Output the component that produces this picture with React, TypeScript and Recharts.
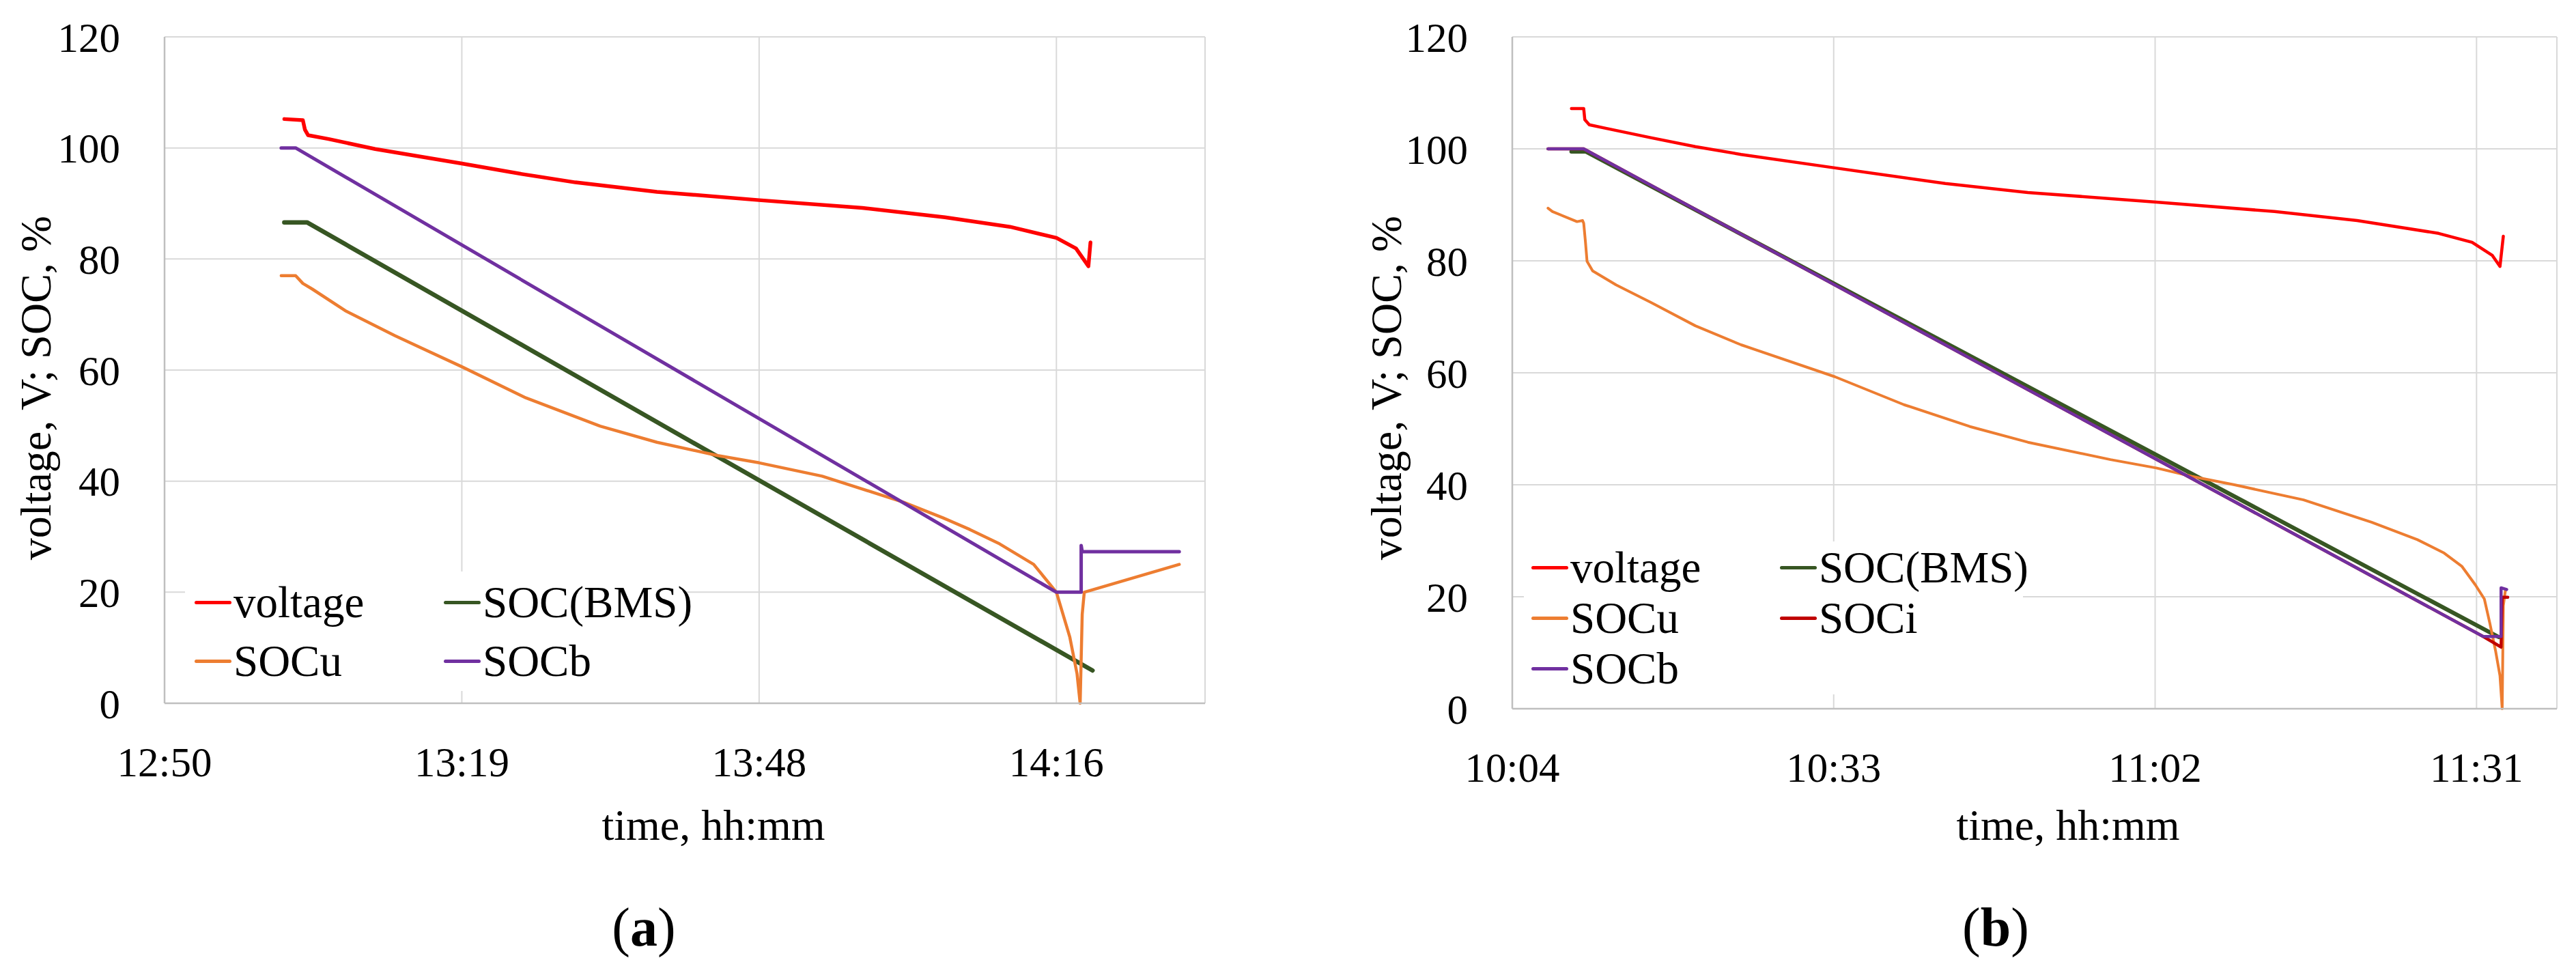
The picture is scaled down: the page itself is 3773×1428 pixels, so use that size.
import { CartesianGrid, Legend, Line, LineChart, XAxis, YAxis } from "recharts";

// t = minutes after midnight, v = volts or %
const voltageA = [
  { t: 782.0, v: 105.2 }, { t: 783.8, v: 105.0 }, { t: 784.0, v: 103.3 }, { t: 784.3, v: 102.3 },
  { t: 786.3, v: 101.6 }, { t: 790.8, v: 99.8 }, { t: 799.2, v: 97.2 }, { t: 805.0, v: 95.3 },
  { t: 810.2, v: 93.8 }, { t: 818.1, v: 92.1 }, { t: 828.0, v: 90.6 }, { t: 838.0, v: 89.2 },
  { t: 846.0, v: 87.5 }, { t: 852.3, v: 85.8 }, { t: 856.8, v: 83.8 }, { t: 858.7, v: 81.9 },
  { t: 859.9, v: 78.7 }, { t: 860.1, v: 83.0 },
];
const socBmsA = [{ t: 782.0, v: 86.6 }, { t: 784.2, v: 86.6 }, { t: 860.3, v: 5.9 }];
const socUA = [
  { t: 781.7, v: 77.0 }, { t: 783.1, v: 77.0 }, { t: 783.8, v: 75.6 }, { t: 784.7, v: 74.6 },
  { t: 787.9, v: 70.7 }, { t: 792.7, v: 66.2 }, { t: 799.2, v: 60.6 }, { t: 805.4, v: 55.0 },
  { t: 812.6, v: 49.9 }, { t: 818.1, v: 47.0 }, { t: 824.0, v: 44.6 }, { t: 828.0, v: 43.3 },
  { t: 834.1, v: 40.9 }, { t: 842.0, v: 36.2 }, { t: 845.8, v: 33.4 }, { t: 848.4, v: 31.3 },
  { t: 851.3, v: 28.7 }, { t: 854.6, v: 25.0 }, { t: 856.8, v: 20.0 }, { t: 858.1, v: 11.9 },
  { t: 858.8, v: 5.3 }, { t: 859.1, v: 0 }, { t: 859.3, v: 16.0 }, { t: 859.5, v: 20.0 },
  { t: 868.7, v: 25.0 },
];
const socBA = [
  { t: 781.7, v: 100 }, { t: 783.1, v: 100 }, { t: 856.8, v: 20.0 }, { t: 859.2, v: 20.0 },
  { t: 859.2, v: 28.4 }, { t: 859.3, v: 27.3 }, { t: 868.7, v: 27.3 },
];

const voltageB = [
  { t: 610.1, v: 107.2 }, { t: 611.2, v: 107.2 }, { t: 611.3, v: 105.2 }, { t: 611.7, v: 104.3 },
  { t: 613.1, v: 103.7 }, { t: 617.2, v: 102.0 }, { t: 621.2, v: 100.4 }, { t: 625.3, v: 99.0 },
  { t: 633.7, v: 96.6 }, { t: 643.6, v: 93.8 }, { t: 651.0, v: 92.2 }, { t: 662.5, v: 90.5 },
  { t: 673.1, v: 88.8 }, { t: 680.5, v: 87.2 }, { t: 687.8, v: 84.9 }, { t: 690.8, v: 83.3 },
  { t: 692.6, v: 81.0 }, { t: 693.3, v: 79.0 }, { t: 693.6, v: 84.4 },
];
const socBmsB = [{ t: 610.1, v: 99.5 }, { t: 611.4, v: 99.5 }, { t: 693.2, v: 12.8 }];
const socUB = [
  { t: 608.0, v: 89.4 }, { t: 608.4, v: 88.8 }, { t: 610.6, v: 87.0 }, { t: 611.1, v: 87.2 },
  { t: 611.2, v: 86.7 }, { t: 611.35, v: 83.5 }, { t: 611.5, v: 79.9 }, { t: 612.0, v: 78.2 },
  { t: 614.1, v: 75.7 }, { t: 617.2, v: 72.6 }, { t: 621.2, v: 68.4 }, { t: 625.3, v: 65.0 },
  { t: 633.7, v: 59.3 }, { t: 639.9, v: 54.3 }, { t: 645.8, v: 50.4 }, { t: 651.0, v: 47.6 },
  { t: 658.4, v: 44.5 }, { t: 662.5, v: 43.0 }, { t: 665.7, v: 41.5 }, { t: 669.5, v: 40.0 },
  { t: 675.7, v: 37.3 }, { t: 681.8, v: 33.3 }, { t: 685.9, v: 30.2 }, { t: 688.3, v: 27.8 },
  { t: 689.9, v: 25.4 }, { t: 691.1, v: 22.1 }, { t: 691.9, v: 19.6 }, { t: 692.4, v: 15.2 },
  { t: 692.9, v: 10.4 }, { t: 693.3, v: 5.9 }, { t: 693.5, v: 0 }, { t: 693.6, v: 18.4 },
  { t: 693.8, v: 21.3 },
];
const socIB = [
  { t: 608.0, v: 100 }, { t: 611.2, v: 100 }, { t: 691.8, v: 12.9 }, { t: 693.4, v: 11.0 },
  { t: 693.5, v: 19.9 }, { t: 694.0, v: 19.9 },
];
const socBB = [
  { t: 608.0, v: 100 }, { t: 611.2, v: 100 }, { t: 691.8, v: 12.9 }, { t: 693.4, v: 12.9 },
  { t: 693.4, v: 21.6 }, { t: 693.9, v: 21.3 },
];

const ticksA = [770.4, 799.2, 828, 856.8];
const tickLabelsA = ["12:50", "13:19", "13:48", "14:16"];
const ticksB = [604.8, 633.6, 662.4, 691.2];
const tickLabelsB = ["10:04", "10:33", "11:02", "11:31"];
const yTicks = [0, 20, 40, 60, 80, 100, 120];

const FONT = "'Liberation Serif', 'Times New Roman', serif";
const GRID = "#D9D9D9";
const AXIS = "#BFBFBF";

const seriesA = [
  { name: "voltage", data: voltageA, color: "#FF0000", w: 5.5 },
  { name: "SOC(BMS)", data: socBmsA, color: "#375623", w: 6.5 },
  { name: "SOCu", data: socUA, color: "#ED7D31", w: 4.5 },
  { name: "SOCb", data: socBA, color: "#7030A0", w: 5 },
];
const seriesB = [
  { name: "voltage", data: voltageB, color: "#FF0000", w: 4.5 },
  { name: "SOC(BMS)", data: socBmsB, color: "#375623", w: 6 },
  { name: "SOCu", data: socUB, color: "#ED7D31", w: 4 },
  { name: "SOCi", data: socIB, color: "#C00000", w: 4.5 },
  { name: "SOCb", data: socBB, color: "#7030A0", w: 4.5 },
];

type Series = { name: string; data: { t: number; v: number }[]; color: string; w: number };

function LegendBox({ items, colW, rowH, padL, padT, w, h }: any) {
  return (
    <div
      style={{
        width: w,
        height: h,
        background: "#fff",
        boxSizing: "border-box",
        paddingLeft: padL,
        paddingTop: padT,
        display: "grid",
        gridTemplateColumns: `${colW}px ${colW}px`,
        gridAutoRows: `${rowH}px`,
        fontFamily: FONT,
        fontSize: 65,
        color: "#000",
      }}
    >
      {items.map((s: Series) => (
        <div key={s.name} style={{ display: "flex", alignItems: "center", lineHeight: 1 }}>
          <span style={{ width: 54, height: 5, background: s.color, borderRadius: 2.5, marginRight: 3 }} />
          <span>{s.name}</span>
        </div>
      ))}
    </div>
  );
}

function Panel(p: any) {
  const series: Series[] = p.series;
  return (
    <div style={{ position: "absolute", left: p.left, top: 0 }}>
      <LineChart width={p.width} height={1428} margin={{ top: 54, right: p.marginRight, bottom: 0, left: 0 }}>
        <CartesianGrid stroke={GRID} strokeWidth={2} />
        <XAxis
          type="number"
          dataKey="t"
          domain={p.domain}
          ticks={p.ticks}
          interval={0}
          tickFormatter={(_v: number, i: number) => p.tickLabels[i]}
          height={p.xAxisHeight}
          tickLine={false}
          tickSize={0}
          tickMargin={64}
          axisLine={{ stroke: AXIS, strokeWidth: 2.5 }}
          tick={{ fontSize: 61, fill: "#000", fontFamily: FONT }}
          label={{
            content: () => (
              <g fontFamily={FONT} fill="#000">
                <text x={p.titleX} y={1230} textAnchor="middle" fontSize={64}>
                  time, hh:mm
                </text>
                <text x={p.captionX} y={1385} textAnchor="middle" fontSize={80}>
                  (<tspan fontWeight="bold">{p.caption}</tspan>)
                </text>
              </g>
            ),
          }}
        />
        <YAxis
          type="number"
          domain={[0, 120]}
          ticks={yTicks}
          interval={0}
          width={p.yAxisWidth}
          tickLine={false}
          tickSize={0}
          tickMargin={65}
          axisLine={{ stroke: AXIS, strokeWidth: 2.5 }}
          tick={{ fontSize: 61, fill: "#000", fontFamily: FONT }}
          label={{
            content: () => (
              <text
                x={p.yTitleX}
                y={568}
                transform={`rotate(-90 ${p.yTitleX} 568)`}
                textAnchor="middle"
                dominantBaseline="central"
                fontSize={64}
                fontFamily={FONT}
                fill="#000"
              >
                voltage, V; SOC, %
              </text>
            ),
          }}
        />
        {series.map((s) => (
          <Line
            key={s.name}
            data={s.data}
            dataKey="v"
            name={s.name}
            type="linear"
            stroke={s.color}
            strokeWidth={s.w}
            strokeLinejoin="round"
            strokeLinecap="round"
            dot={false}
            activeDot={false}
            isAnimationActive={false}
          />
        ))}
        <Legend
          layout="horizontal"
          verticalAlign="middle"
          align="center"
          wrapperStyle={{ left: p.legend.x, top: p.legend.y, width: p.legend.w, height: p.legend.h }}
          content={() => <LegendBox items={series} {...p.legend} />}
        />
      </LineChart>
    </div>
  );
}

export default function App() {
  return (
    <div style={{ position: "absolute", left: 0, top: 0, width: 3773, height: 1428, background: "#fff" }}>
      <Panel
        left={0}
        width={1886}
        marginRight={121}
        yAxisWidth={241}
        xAxisHeight={398}
        domain={[770.4, 871.2]}
        ticks={ticksA}
        tickLabels={tickLabelsA}
        series={seriesA}
        titleX={1045}
        captionX={943}
        caption="a"
        yTitleX={52}
        legend={{ x: 271, y: 837, w: 729, h: 175, colW: 365, rowH: 86, padL: 14, padT: 2 }}
      />
      <Panel
        left={1886}
        width={1887}
        marginRight={28}
        yAxisWidth={329}
        xAxisHeight={390}
        domain={[604.8, 698.4]}
        ticks={ticksB}
        tickLabels={tickLabelsB}
        series={seriesB}
        titleX={1143}
        captionX={1037}
        caption="b"
        yTitleX={144}
        legend={{ x: 346, y: 793, w: 731, h: 224, colW: 364, rowH: 74, padL: 11, padT: 1 }}
      />
    </div>
  );
}
